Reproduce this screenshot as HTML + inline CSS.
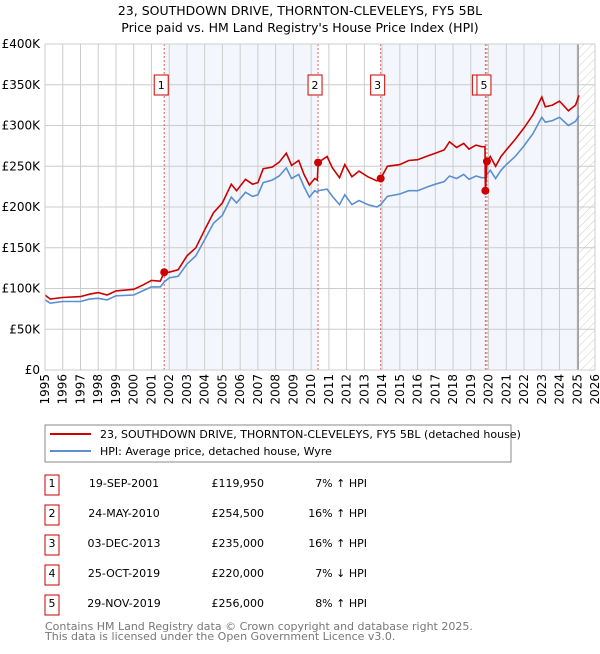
<!DOCTYPE html>
<html><head><meta charset="utf-8"><style>
body{margin:0;background:#fff;font-family:"DejaVu Sans","Liberation Sans",sans-serif;}
svg text{font-family:"DejaVu Sans","Liberation Sans",sans-serif;}
</style></head><body>
<svg id="c" width="600" height="650" xmlns="http://www.w3.org/2000/svg">
<defs><pattern id="hatch" width="6" height="6" patternUnits="userSpaceOnUse" patternTransform="rotate(45)"><line x1="0" y1="0" x2="0" y2="6" stroke="#ccc" stroke-width="1"/></pattern></defs>
<text x="300" y="15" text-anchor="middle" font-size="12.5">23, SOUTHDOWN DRIVE, THORNTON-CLEVELEYS, FY5 5BL</text>
<text x="300" y="32" text-anchor="middle" font-size="12.5">Price paid vs. HM Land Registry's House Price Index (HPI)</text>
<g id="plot"></g>
<rect x="45" y="425" width="466" height="37" fill="#fff" stroke="#888"/>
<line x1="50" y1="434" x2="91" y2="434" stroke="#cc0000" stroke-width="2"/>
<text x="100" y="438" font-size="11">23, SOUTHDOWN DRIVE, THORNTON-CLEVELEYS, FY5 5BL (detached house)</text>
<line x1="50" y1="451" x2="91" y2="451" stroke="#5b8fd0" stroke-width="2"/>
<text x="100" y="455" font-size="11">HPI: Average price, detached house, Wyre</text>
<g id="table" font-size="11"></g>
<text x="45" y="630" font-size="11" fill="#777">Contains HM Land Registry data © Crown copyright and database right 2025.</text>
<text x="45" y="640" font-size="11" fill="#777">This data is licensed under the Open Government Licence v3.0.</text>
</svg>
<script>
const dates=[1995.0,1995.3,1996,1997,1997.5,1998,1998.5,1999,2000,2000.5,2001,2001.5,2001.72,2002,2002.5,2003,2003.5,2004,2004.5,2005,2005.5,2005.8,2006.3,2006.7,2007,2007.3,2007.8,2008.2,2008.6,2008.9,2009.3,2009.6,2009.9,2010.2,2010.35,2010.4,2010.9,2011.2,2011.6,2011.9,2012.3,2012.7,2013.2,2013.7,2013.92,2014.3,2015,2015.5,2016,2016.6,2017,2017.5,2017.8,2018.2,2018.6,2018.9,2019.3,2019.6,2019.8,2019.82,2019.91,2020.1,2020.4,2020.7,2021,2021.5,2022,2022.5,2023,2023.2,2023.6,2024,2024.5,2024.9,2025.1];
const hpi=[86,82,84,84,87,88,86,91,92,97,102,102,108,113,115,130,140,160,180,190,212,205,218,213,215,230,233,238,248,235,240,225,212,220,218,220,222,213,203,215,203,208,203,200,203,213,216,220,220,225,228,231,238,235,240,234,238,236,236,236,240,245,235,245,252,262,275,290,310,304,306,310,300,305,312];
const price=[92,87,89,90,93,95,92,97,99,104,110,109,120,120,123,140,150,172,193,205,228,220,234,228,230,247,249,255,266,251,257,240,227,235,233,254.5,262,248,236,252,237,244,237,232,235,250,252,257,258,263,266,270,280,273,278,271,276,274,274,220,256,262,250,262,270,283,297,313,335,323,325,330,318,325,337];
const saleDates=[2001.72,2010.39,2013.92,2019.82,2019.91];
const salePrices=[119950,254500,235000,220000,256000];
const saleLabels=["1","2","3","4","5"];
const saleDateText=["19-SEP-2001","24-MAY-2010","03-DEC-2013","25-OCT-2019","29-NOV-2019"];
const salePriceText=["£119,950","£254,500","£235,000","£220,000","£256,000"];
const saleHpiText=["7% ↑ HPI","16% ↑ HPI","16% ↑ HPI","7% ↓ HPI","8% ↑ HPI"];
const yTicks=[0,50000,100000,150000,200000,250000,300000,350000,400000];
const yTickLabels=["£0","£50K","£100K","£150K","£200K","£250K","£300K","£350K","£400K"];
const xTicks=[1995,1996,1997,1998,1999,2000,2001,2002,2003,2004,2005,2006,2007,2008,2009,2010,2011,2012,2013,2014,2015,2016,2017,2018,2019,2020,2021,2022,2023,2024,2025,2026];

const X0=45,X1=595,Y0=370,Y1=44;
const xs=y=>X0+(y-1995)/(2026-1995)*(X1-X0);
const ys=v=>Y0-v/400000*(Y0-Y1);
const NS="http://www.w3.org/2000/svg";
const plot=document.getElementById('plot');
function mk(tag,attrs,parent){const e=document.createElementNS(NS,tag);for(const k in attrs)e.setAttribute(k,attrs[k]);(parent||plot).appendChild(e);return e;}

let r=mk('rect',{x:X0,y:Y1,width:X1-X0,height:Y0-Y1,fill:'#fff'});


// shaded bands between alternate sales
const bandPairs=[[0,1],[2,3],[4,-1]];
bandPairs.forEach((p,i)=>{const a=xs(saleDates[p[0]]);const b=p[1]<0?xs(2025.05):xs(saleDates[p[1]]);
 const e=mk('rect',{x:a,y:Y1,width:b-a,height:Y0-Y1,fill:'#eef3fc',opacity:0.7});
 
 });
let h=mk('rect',{x:xs(2025.05),y:Y1,width:X1-xs(2025.05),height:Y0-Y1,fill:'url(#hatch)'});


yTicks.forEach((t,i)=>{
 const g=mk('line',{x1:X0,x2:X1,y1:ys(t),y2:ys(t),stroke:'#ccc','stroke-width':1});
 
 
 const tx=mk('text',{x:40,y:ys(t)+4,'text-anchor':'end','font-size':12});
 tx.textContent=yTickLabels[i];
 
 
});
xTicks.forEach(t=>{
 const g=mk('line',{x1:xs(t),x2:xs(t),y1:Y1,y2:Y0,stroke:'#ccc','stroke-width':1});
 
 
 const tx=mk('text',{x:0,y:0,'text-anchor':'end','font-size':12,transform:`translate(${xs(t)+4},${Y0+4}) rotate(-90)`});
 tx.textContent=t;
 
 
});
let vl=mk('line',{x1:xs(2025.05),x2:xs(2025.05),y1:Y1,y2:Y0,stroke:'#999','stroke-width':1.5});


// sale vertical lines and labels
saleDates.forEach((d,i)=>{
 const l=mk('line',{x1:xs(d),x2:xs(d),y1:Y1,y2:Y0,stroke:'#e06060','stroke-width':1,'stroke-dasharray':'2,2'});
 
 
});
saleDates.forEach((d,i)=>{
 const bx=xs(d)-10-(i===3?3:0);
 const b=mk('rect',{x:bx,y:75,width:14,height:20,fill:'#fff',stroke:'#cc0000','stroke-width':1});
 
 
 if(i!==3){const t=mk('text',{x:bx+7,y:89,'text-anchor':'middle','font-size':11});
 t.textContent=saleLabels[i];
 
 }
});
function path(vals,mult){return vals.map((v,i)=>(i?'L':'M')+xs(dates[i]).toFixed(1)+','+ys(v*mult).toFixed(1)).join(' ');}
let hp=mk('path',{d:path(hpi,1000),fill:'none',stroke:'#5b8fd0','stroke-width':1.6});


let pp=mk('path',{d:path(price,1000),fill:'none',stroke:'#cc0000','stroke-width':1.6});


saleDates.forEach((d,i)=>{
 const c=mk('circle',{cx:xs(d),cy:ys(salePrices[i]),r:4,fill:'#cc0000'});
 
 
});
let fr=mk('rect',{x:X0,y:Y1,width:X1-X0,height:Y0-Y1,fill:'none',stroke:'#ccc'});


// table
const tb=document.getElementById('table');
saleLabels.forEach((s,i)=>{
 const cy=485+i*30;
 const b=mk('rect',{x:45,y:cy-10,width:14,height:20,fill:'#fff',stroke:'#cc0000'},tb);
 
 
 const t0=mk('text',{x:52,y:cy+2,'text-anchor':'middle'},tb);t0.textContent=s;
 
 
 const t1=mk('text',{x:124,y:cy+2,'text-anchor':'middle'},tb);t1.textContent=saleDateText[i];
 
 
 const t2=mk('text',{x:264,y:cy+2,'text-anchor':'end'},tb);t2.textContent=salePriceText[i];
 
 
 const t3=mk('text',{x:367,y:cy+2,'text-anchor':'end'},tb);t3.textContent=saleHpiText[i];
 
 
});
</script>
</body></html>
